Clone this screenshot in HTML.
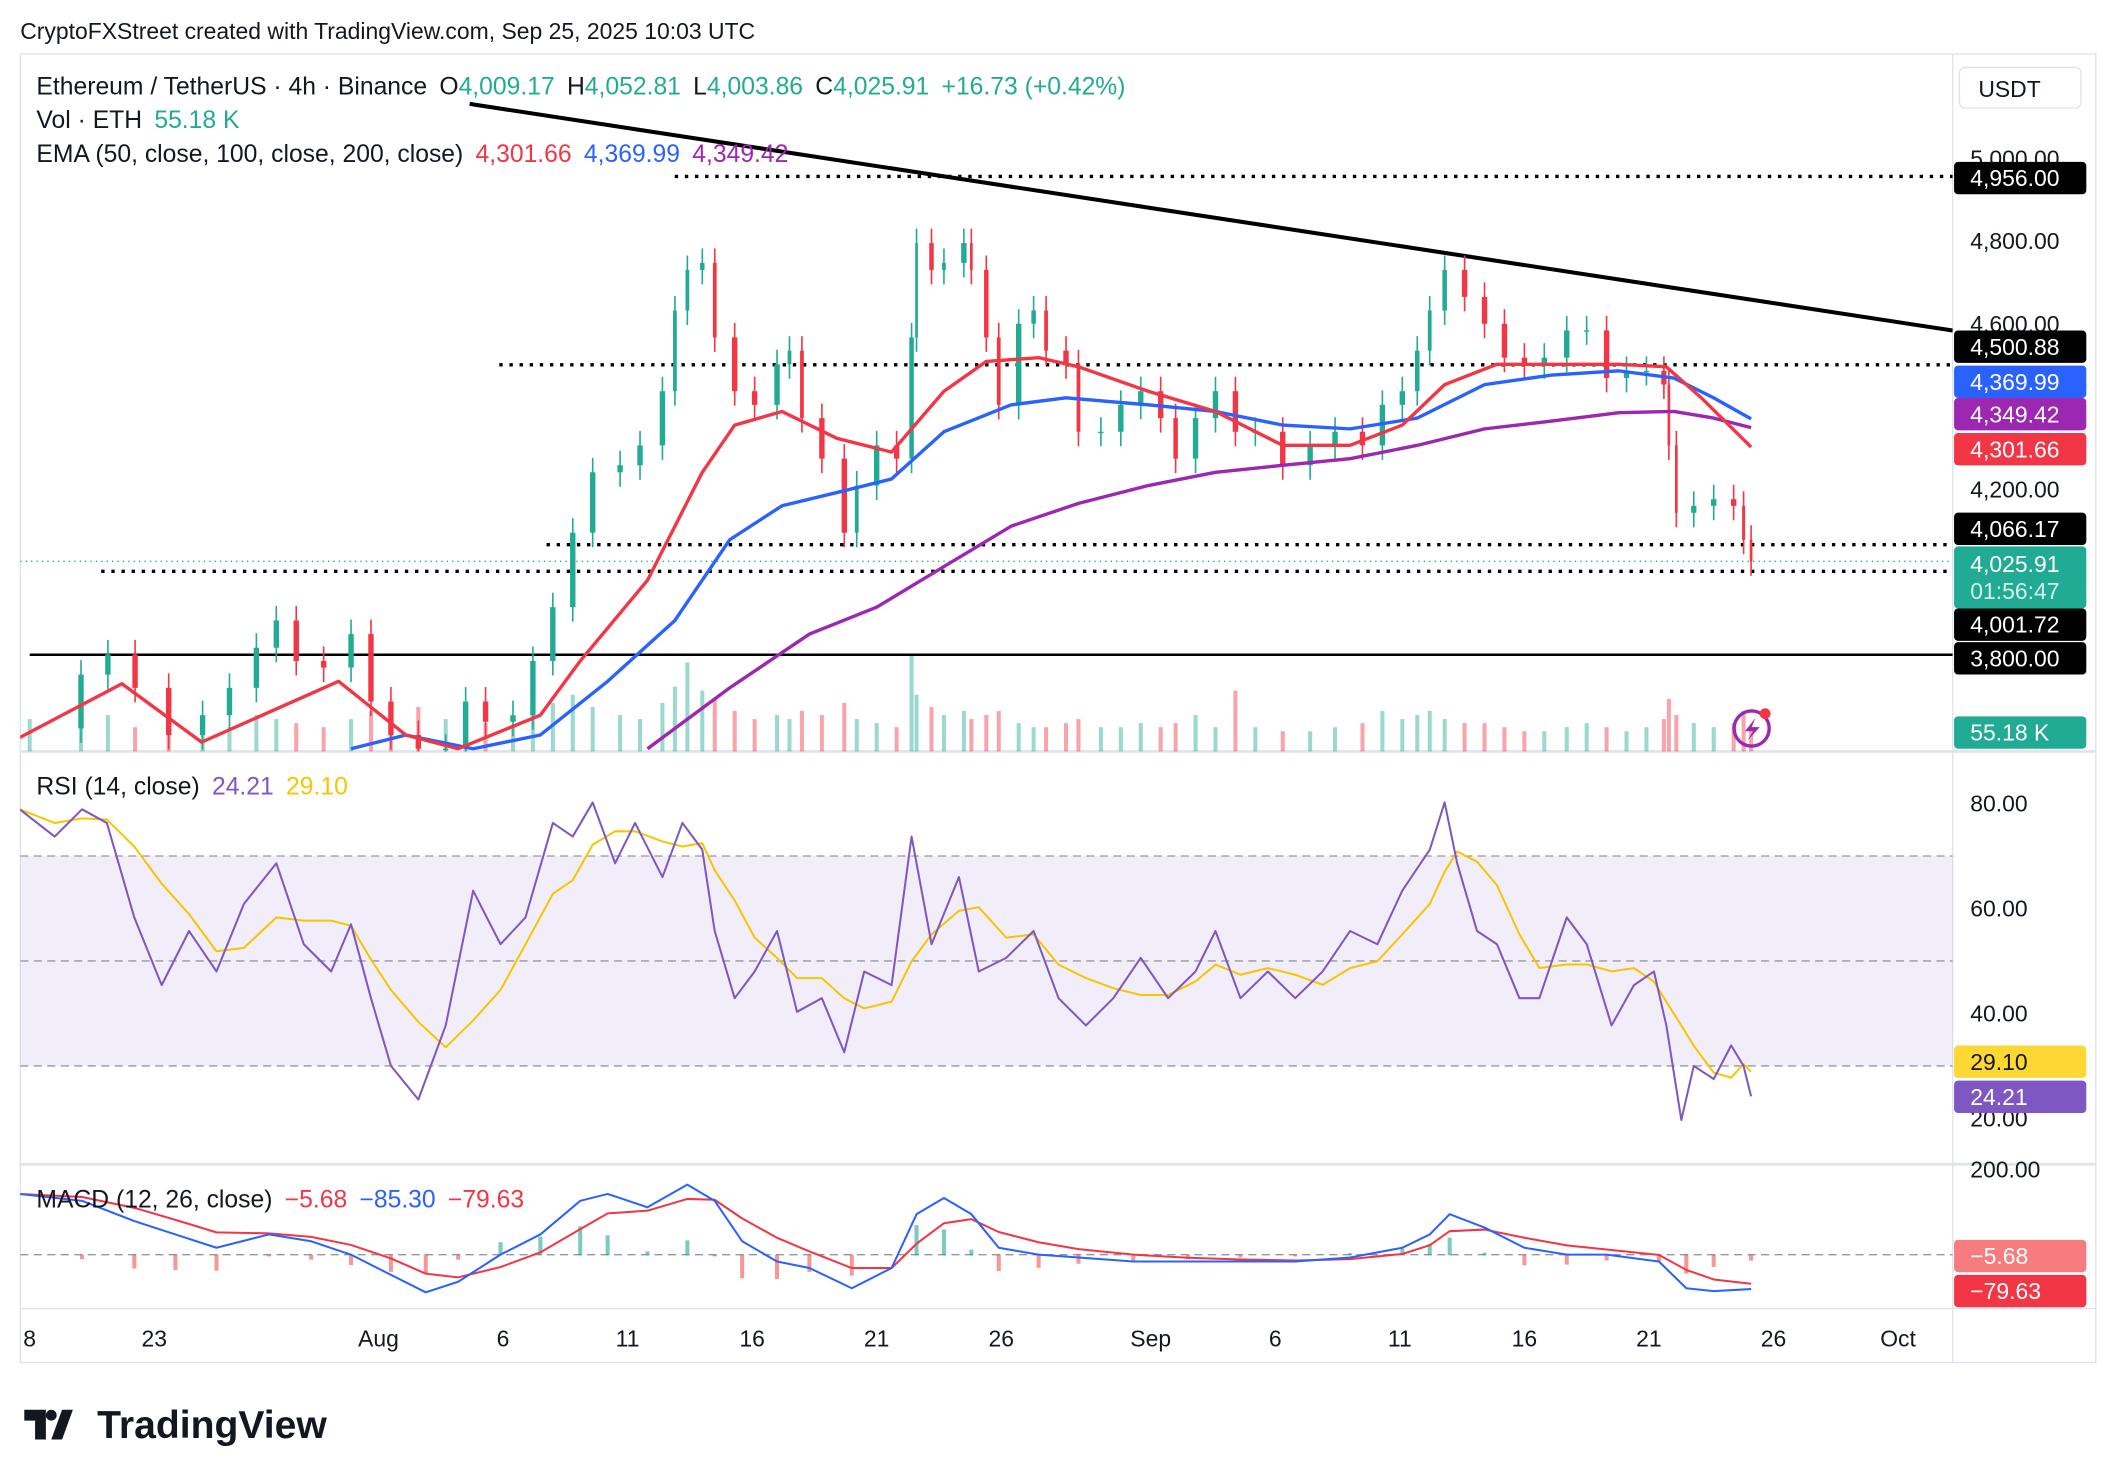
<!DOCTYPE html>
<html><head><meta charset="utf-8"><style>
html,body{margin:0;padding:0;background:#fff;}
svg{display:block;font-family:"Liberation Sans",sans-serif;}
</style></head><body>
<svg id="c" width="2116" height="1484" viewBox="0 0 1568 1100" preserveAspectRatio="none">
<rect x="0" y="0" width="1568" height="1100" fill="#fff"/>
<text x="15" y="29" font-size="17" fill="#131722">CryptoFXStreet created with TradingView.com, Sep 25, 2025 10:03 UTC</text>
<rect x="15" y="40" width="1538" height="970" fill="none" stroke="#e0e3eb"/>
<line x1="1447" y1="40" x2="1447" y2="1010" stroke="#e0e3eb"/>
<line x1="15" y1="557" x2="1553" y2="557" stroke="#e0e3eb" stroke-width="2"/>
<line x1="15" y1="863" x2="1553" y2="863" stroke="#e0e3eb" stroke-width="2"/>
<line x1="15" y1="970" x2="1553" y2="970" stroke="#e0e3eb"/>
<defs>
<clipPath id="pc"><rect x="15" y="40" width="1432" height="517"/></clipPath>
<clipPath id="rc"><rect x="15" y="557" width="1432" height="306"/></clipPath>
<clipPath id="mc"><rect x="15" y="863" width="1432" height="107"/></clipPath>
</defs>
<g id="vol" clip-path="url(#pc)"></g>
<g id="price" clip-path="url(#pc)"></g>
<g id="rsi" clip-path="url(#rc)"></g>
<g id="macd" clip-path="url(#mc)"></g>
<g id="axes"></g>
<g font-size="18.3">
<text x="27" y="70" fill="#131722">Ethereum / TetherUS · 4h · Binance <tspan dx="4">O</tspan><tspan fill="#22ab94">4,009.17</tspan> <tspan dx="4">H</tspan><tspan fill="#22ab94">4,052.81</tspan> <tspan dx="4">L</tspan><tspan fill="#22ab94">4,003.86</tspan> <tspan dx="4">C</tspan><tspan fill="#22ab94">4,025.91</tspan> <tspan dx="4" fill="#22ab94">+16.73 (+0.42%)</tspan></text>
<text x="27" y="95" fill="#131722">Vol · ETH <tspan dx="4" fill="#22ab94">55.18 K</tspan></text>
<text x="27" y="120" fill="#131722">EMA (50, close, 100, close, 200, close) <tspan dx="4" fill="#f23645">4,301.66</tspan> <tspan dx="4" fill="#2962ff">4,369.99</tspan> <tspan dx="4" fill="#9c27b0">4,349.42</tspan></text>
<text x="27" y="589" fill="#131722">RSI (14, close) <tspan dx="4" fill="#7e57c2">24.21</tspan> <tspan dx="4" fill="#f7c600">29.10</tspan></text>
<text x="27" y="895" fill="#131722">MACD (12, 26, close) <tspan dx="4" fill="#f23645">−5.68</tspan> <tspan dx="4" fill="#2962ff">−85.30</tspan> <tspan dx="4" fill="#f23645">−79.63</tspan></text>
</g>
<g>
<path d="M18 1045h16v22h-8v-14h-8z M38 1067l8-22h8l-8 22z" fill="#131722"/>
<circle cx="38" cy="1049" r="4" fill="#131722"/>
<text x="72" y="1066" font-size="29" font-weight="bold" fill="#131722">TradingView</text>
</g>
<g>
<circle cx="1298" cy="540" r="13" fill="none" stroke="#9c27b0" stroke-width="2.5"/>
<path d="M1301 532l-8 10h6l-4 7 9-10h-6z" fill="#9c27b0"/>
<circle cx="1308" cy="529" r="4" fill="#f23645"/>
</g>
</svg>
<script>
// ---- data (days since Jul 17) ----
const closeDays=[1.0,3.06,4.14,5.23,6.58,7.94,9.02,10.1,10.9,11.7,12.8,13.9,14.7,15.5,16.6,17.7,18.5,19.3,20.4,21.2,22.0,22.8,23.6,24.7,25.5,26.4,26.9,27.4,28.0,28.5,29.3,30.1,31.0,31.5,32.0,32.8,33.7,34.2,35.0,35.8,36.4,36.6,37.2,37.7,38.5,38.8,39.4,39.9,40.7,41.3,41.8,42.6,43.1,44.0,44.8,45.6,46.4,47.0,47.8,48.6,49.4,50.2,51.3,52.4,53.4,54.5,55.3,56.1,56.7,57.2,57.8,58.6,59.4,60.2,61.0,61.8,62.7,63.5,64.3,65.1,65.9,66.6,66.8,67.1,67.8,68.6,69.4,69.8,70.1];
const closes=[3622,3752,3801,3720,3606,3654,3720,3817,3883,3785,3769,3850,3687,3606,3573,3573,3687,3638,3654,3785,3915,4095,4241,4258,4306,4437,4632,4730,4747,4567,4437,4404,4502,4535,4372,4274,4095,4209,4306,4274,4567,4795,4730,4747,4795,4730,4567,4404,4600,4632,4535,4502,4339,4339,4404,4437,4372,4274,4372,4437,4339,4339,4258,4306,4339,4306,4404,4437,4535,4632,4730,4665,4600,4518,4502,4518,4584,4584,4469,4486,4486,4453,4306,4143,4160,4176,4160,4078,4026];
const volumes=[40,35,45,30,50,35,30,45,40,35,30,40,50,45,55,40,45,35,30,50,60,70,55,45,40,60,80,110,75,65,50,40,45,40,50,45,60,40,35,30,120,70,55,45,50,40,45,50,35,30,30,35,40,30,30,35,30,35,45,30,75,30,25,25,30,35,50,40,45,50,40,35,35,30,25,25,30,35,30,25,30,40,65,45,35,30,35,50,30];
const ema50Days=[0.6,4.7,7.9,13.4,16.1,18.2,21.5,23.1,25.8,28.0,29.3,31.2,33.4,35.6,37.7,39.4,41.5,43.1,45.9,48.6,51.3,54.0,56.1,57.8,59.9,62.1,64.8,66.7,68.1,70.1];
const ema50=[3600,3730,3589,3736,3606,3573,3654,3785,3980,4241,4355,4388,4323,4290,4437,4509,4518,4496,4437,4388,4306,4306,4355,4453,4502,4502,4502,4496,4421,4302];
const ema100Days=[13.9,16.1,18.8,21.5,24.2,26.9,29.1,31.2,33.4,35.6,37.7,40.4,42.6,45.9,48.6,51.3,54.0,56.7,59.4,62.1,64.8,67.0,68.6,70.1];
const ema100=[3573,3606,3573,3606,3736,3883,4078,4160,4192,4225,4339,4404,4421,4404,4388,4355,4346,4372,4453,4476,4486,4469,4421,4370];
const ema200Days=[25.8,29.1,32.3,35.0,37.7,40.4,43.1,45.9,48.6,51.3,54.0,56.7,59.4,62.1,64.8,67.0,68.6,70.1];
const ema200=[3573,3720,3850,3915,4013,4111,4166,4209,4241,4258,4274,4306,4346,4365,4385,4388,4372,4349];
const rsiDays=[0.6,2.0,3.1,4.1,5.2,6.3,7.4,8.5,9.6,10.9,12.0,13.1,13.9,14.7,15.5,16.6,17.7,18.8,19.9,20.9,22.0,22.8,23.6,24.5,25.3,26.4,27.2,28.0,28.5,29.3,30.1,31.0,31.8,32.8,33.7,34.5,35.6,36.4,37.2,38.3,39.1,40.2,41.3,42.3,43.4,44.5,45.6,46.7,47.8,48.6,49.6,50.7,51.8,52.9,54.0,55.1,56.1,57.2,57.8,58.3,59.1,59.9,60.8,61.6,62.7,63.5,64.5,65.4,66.2,66.7,67.3,67.8,68.6,69.3,69.8,70.1];
const rsiVals=[78.9,73.7,78.9,76.3,58.3,45.4,55.7,48.0,60.9,68.6,53.2,48.0,57.0,42.9,30.0,23.6,37.7,63.4,53.2,58.3,76.3,73.7,80.2,68.6,76.3,66.0,76.3,71.2,55.7,42.9,48.0,55.7,40.3,42.9,32.6,48.0,45.4,73.7,53.2,66.0,48.0,50.6,55.7,42.9,37.7,42.9,50.6,42.9,48.0,55.7,42.9,48.0,42.9,48.0,55.7,53.2,63.4,71.2,80.2,68.6,55.7,53.2,42.9,42.9,58.3,53.2,37.7,45.4,48.0,37.7,19.7,30.0,27.5,33.9,30.0,24.2];
const macdDays=[0.6,3.1,5.2,6.85,8.5,10.6,12.3,13.9,15.5,16.9,18.2,19.9,21.5,23.1,24.2,25.8,27.4,28.5,29.6,31.0,32.3,34.0,35.6,36.6,37.7,38.8,39.9,41.5,43.1,45.3,47.5,49.6,51.8,54.0,56.1,57.2,58.0,59.4,61.0,62.7,64.3,66.4,67.5,68.6,70.1];
const macdVals=[150,133,83,50,17,50,33,0,-50,-93,-67,0,50,133,150,117,173,133,33,-17,-33,-83,-33,100,140,100,17,0,-7,-17,-17,-17,-17,-7,17,50,100,67,17,0,0,-17,-83,-90,-85];
const dateTicks=["8","23","Aug","6","11","16","21","26","Sep","6","11","16","21","26","Oct"];
const dateTickDays=[1,6,15,20,25,30,35,40,46,51,56,61,66,71,76];
const priceTicks=[5000,4800,4600,4200];
const rsiTicks=[80,60,40,20];

// ---- scales ----
const X=d=>3.54+d*18.46;
const PY=p=>424-(p-4000)*0.3067;
const RY=v=>829-(v-20)*3.89;
const MY=v=>930-v*0.3;
const NS="http://www.w3.org/2000/svg";
function mk(parent,tag,attrs){const e=document.createElementNS(NS,tag);for(const k in attrs)e.setAttribute(k,attrs[k]);parent.appendChild(e);return e;}
const gP=document.getElementById('price'),gV=document.getElementById('vol'),gR=document.getElementById('rsi'),gM=document.getElementById('macd'),gA=document.getElementById('axes');

function hline(g,x1,x2,y,style,name){const l=mk(g,'line',{x1:x1,x2:x2,y1:y,y2:y,stroke:style.c,'stroke-width':style.w,'stroke-dasharray':style.d||''});

}
hline(gP,500,1447,PY(4956),{c:'#000',w:2.5,d:'2.5 5'},'level-4956');
hline(gP,370,1447,PY(4500.88),{c:'#000',w:2.5,d:'2.5 5'},'level-4500');
hline(gP,405,1447,PY(4066.17),{c:'#000',w:2.5,d:'2.5 5'},'level-4066');
hline(gP,75,1447,PY(4001.72),{c:'#000',w:2.5,d:'2.5 5'},'level-4001');
hline(gP,22,1447,PY(3800),{c:'#000',w:1.8},'level-3800');
hline(gP,15,1447,PY(4025.91),{c:'#22ab94',w:1,d:'1 3'},'current-price-line');
{const t=mk(gP,'line',{x1:348,y1:77,x2:1447,y2:245,stroke:'#000','stroke-width':3});

}

const n=Math.min(closeDays.length,closes.length);
for(let i=0;i<n;i++){const up=i==0||closes[i]>=closes[i-1];const v=volumes[i]||0;const x=X(closeDays[i]);
const b=mk(gV,'rect',{x:x-1.5,y:557-v*0.6,width:3,height:v*0.6,fill:up?'rgba(34,171,148,0.45)':'rgba(242,54,69,0.45)'});

}

for(let i=1;i<n;i++){const o=closes[i-1],c=closes[i];const up=c>=o;const col=up?'#22ab94':'#f23645';
const x=X(closeDays[i]);const w=Math.min(4,Math.max(2,(X(closeDays[i])-X(closeDays[i-1]))*0.3));
const hi=Math.max(o,c)+35,lo=Math.min(o,c)-35;
const wk=mk(gP,'line',{x1:x,x2:x,y1:PY(hi),y2:PY(lo),stroke:col,'stroke-width':1.2});


const bd=mk(gP,'rect',{x:x-w/2,y:PY(Math.max(o,c)),width:w,height:Math.max(1,Math.abs(PY(o)-PY(c))),fill:col});

}

function line(g,days,vals,Y,col,w,name){let d='';const m=Math.min(days.length,vals.length);for(let i=0;i<m;i++)d+=(i?'L':'M')+X(days[i]).toFixed(1)+' '+Y(vals[i]).toFixed(1);
const p=mk(g,'path',{d:d,fill:'none',stroke:col,'stroke-width':w,'stroke-linejoin':'round'});

return p;}
line(gP,ema200Days,ema200,PY,'#9c27b0',2.5,'ema-200-line');
line(gP,ema100Days,ema100,PY,'#2962ff',2.5,'ema-100-line');
line(gP,ema50Days,ema50,PY,'#f23645',2.5,'ema-50-line');

{const bg=mk(gR,'rect',{x:15,y:RY(70),width:1432,height:RY(30)-RY(70),fill:'rgba(126,87,194,0.1)'});

}
[70,50,30].forEach(v=>{const l=mk(gR,'line',{x1:15,x2:1447,y1:RY(v),y2:RY(v),stroke:'#9598a1','stroke-dasharray':'6 4'});

});
const rsiMA=rsiVals.map((v,i)=>{const s=rsiVals.slice(Math.max(0,i-3),i+1);return s.reduce((a,b)=>a+b,0)/s.length;});
line(gR,rsiDays,rsiMA,RY,'#f7c600',1.5,'rsi-ma-line');
line(gR,rsiDays,rsiVals,RY,'#7e57c2',1.5,'rsi-line');

{const l=mk(gM,'line',{x1:15,x2:1447,y1:MY(0),y2:MY(0),stroke:'#9598a1','stroke-dasharray':'6 4'});

}
const sig=[];macdVals.forEach((v,i)=>sig.push(i?sig[i-1]+(v-sig[i-1])*0.45:v));
for(let i=0;i<Math.min(macdDays.length,macdVals.length);i++){const h=macdVals[i]-sig[i];const x=X(macdDays[i]);
const r=mk(gM,'rect',{x:x-1.5,y:Math.min(MY(0),MY(h)),width:3,height:Math.abs(MY(h)-MY(0))+0.5,fill:h>=0?'#26a69a':'#ef5350',opacity:0.6});

}
line(gM,macdDays,sig,MY,'#f23645',1.5,'macd-signal-line');
line(gM,macdDays,macdVals,MY,'#2962ff',1.5,'macd-line');

function txt(x,y,s,opts){const t=mk(gA,'text',{x:x,y:y,'font-size':opts.fs||17,fill:opts.c||'#131722','text-anchor':opts.a||'start'});t.textContent=s;

return t;}
for(let i=0;i<dateTicks.length;i++){txt(X(dateTickDays[i]),998,dateTicks[i],{a:'middle',n:'x-tick-label',fs:17});}
const fmt=v=>v.toLocaleString('en-US',{minimumFractionDigits:2,maximumFractionDigits:2});
priceTicks.forEach(p=>txt(1460,PY(p)+6,fmt(p),{n:'price-tick-label'}));
rsiTicks.forEach(v=>txt(1460,RY(v)+6,fmt(v),{n:'rsi-tick-label'}));
txt(1460,873,'200.00',{n:'macd-tick-label'});
{const b=mk(gA,'rect',{x:1452,y:50,width:90,height:30,rx:4,fill:'#fff',stroke:'#e0e3eb'});

}
txt(1466,72,'USDT',{n:'currency-label'});
function badge(y,s,bg,fg,name,h){h=h||24;const r=mk(gA,'rect',{x:1448,y:y-h/2,width:98,height:h,rx:3,fill:bg});


txt(1460,y+6,s,{c:fg,n:name+'-text'});}
badge(132,'4,956.00','#000','#fff','badge-4956');
badge(257,'4,500.88','#000','#fff','badge-4500');
badge(283,'4,369.99','#2962ff','#fff','badge-ema100');
badge(307,'4,349.42','#9c27b0','#fff','badge-ema200');
badge(333,'4,301.66','#f23645','#fff','badge-ema50');
badge(392,'4,066.17','#000','#fff','badge-4066');
{const r=mk(gA,'rect',{x:1448,y:405,width:98,height:46,rx:3,fill:'#22ab94'});


txt(1460,424,'4,025.91',{c:'#fff',n:'current-price-text'});txt(1460,444,'01:56:47',{c:'#d4f0eb',n:'countdown-text'});}
badge(463,'4,001.72','#000','#fff','badge-4001');
badge(488,'3,800.00','#000','#fff','badge-3800');
badge(543,'55.18 K','#22ab94','#fff','badge-volume');
badge(787,'29.10','#fdd835','#131722','badge-rsi-ma');
badge(813,'24.21','#7e57c2','#fff','badge-rsi');
badge(931,'−5.68','#f77c80','#fff','badge-macd-hist');
badge(957,'−79.63','#f23645','#fff','badge-macd-signal');
</script>
</body></html>
